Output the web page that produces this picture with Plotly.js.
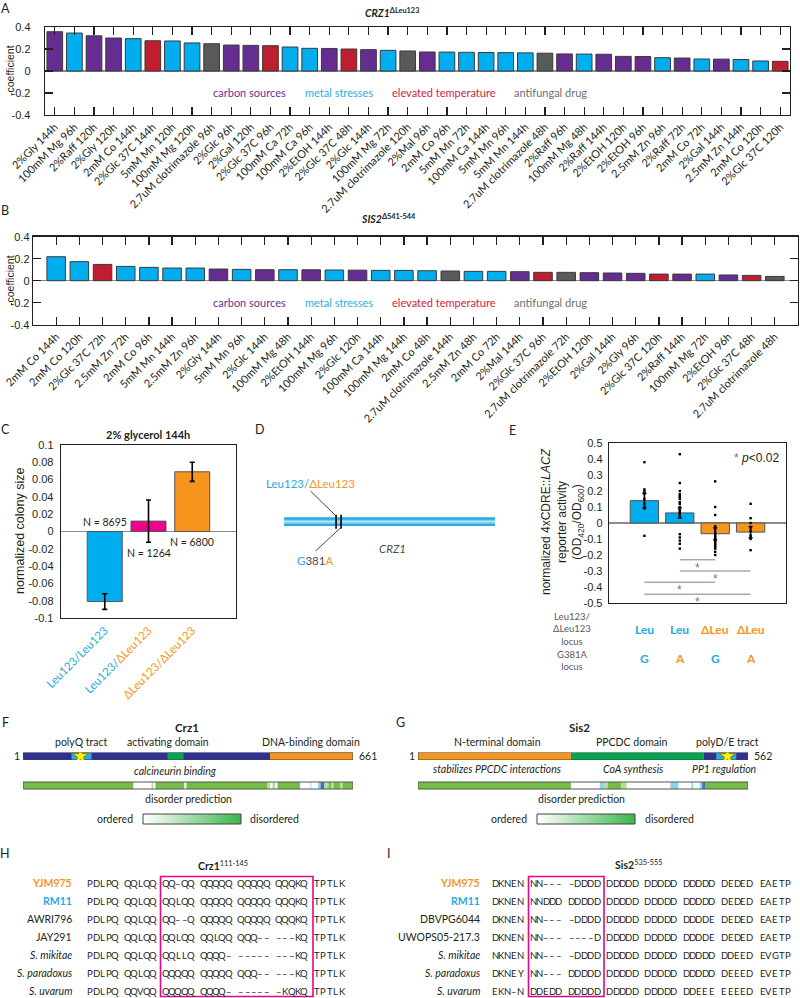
<!DOCTYPE html>
<html><head><meta charset="utf-8">
<script src="https://cdn.plot.ly/plotly-3.0.1.min.js"></script>
<style>html,body{margin:0;padding:0;background:#fff}#chart{width:800px;height:998px}</style>
</head><body><div id="chart"></div>
<script>
// ---------- DATA ----------
// Panel A: CRZ1 ΔLeu123
const aConditions = ['2%Gly 144h','100mM Mg 96h','2%Raff 120h','2%Gly 120h','2mM Co 144h','2%Glc 37C 144h','5mM Mn 120h','100mM Mg 120h','2.7uM clotrimazole 96h','2%Glc 96h','2%Gal 120h','2%Glc 37C 96h','100mM Ca 72h','100mM Ca 96h','2%EtOH 144h','2%Glc 37C 48h','2%Glc 144h','100mM Mg 72h','2.7uM clotrimazole 120h','2%Mal 96h','2mM Co 96h','5mM Mn 72h','100mM Ca 144h','5mM Mn 96h','5mM Mn 144h','2.7uM clotrimazole 48h','2%Raff 96h','100mM Mg 48h','2%Raff 144h','2%EtOH 120h','2%EtOH 96h','2.5mM Zn 96h','2%Raff 72h','2mM Co 72h','2%Gal 144h','2.5mM Zn 144h','2mM Co 120h','2%Glc 37C 120h'];
const aValues = [0.357,0.345,0.32,0.30,0.294,0.275,0.273,0.255,0.248,0.236,0.233,0.23,0.218,0.206,0.205,0.2,0.194,0.188,0.182,0.173,0.172,0.17,0.168,0.167,0.165,0.162,0.155,0.154,0.152,0.133,0.132,0.121,0.118,0.109,0.108,0.105,0.091,0.088];
// Panel B: SIS2 Δ541-544
const bConditions = ['2mM Co 144h','2mM Co 120h','2%Glc 37C 72h','2.5mM Zn 72h','2mM Co 96h','5mM Mn 144h','2.5mM Zn 96h','2%Gly 144h','5mM Mn 96h','2%Glc 144h','100mM Mg 48h','2%EtOH 144h','100mM Mg 96h','2%Glc 120h','100mM Ca 144h','100mM Mg 144h','2mM Co 48h','2.7uM clotrimazole 144h','2.5mM Zn 48h','2mM Co 72h','2%Mal 144h','2%Glc 37C 96h','2.7uM clotrimazole 72h','2%EtOH 120h','2%Gal 144h','2%Gly 96h','2%Glc 37C 120h','2%Raff 144h','100mM Mg 72h','2%EtOH 96h','2%Glc 37C 48h','2.7uM clotrimazole 48h'];
const bValues = [0.218,0.173,0.148,0.13,0.121,0.115,0.115,0.106,0.103,0.1,0.1,0.099,0.097,0.096,0.094,0.094,0.091,0.088,0.085,0.085,0.082,0.076,0.076,0.073,0.07,0.067,0.06,0.06,0.06,0.052,0.048,0.039];
const groupNames = ['carbon sources','metal stresses','elevated temperature','antifungal drug'];
// Panel C
const cGenotypes = [['Leu123/','Leu123'],['Leu123/','ΔLeu123'],['ΔLeu123/','ΔLeu123']];
const cValues = [-0.081, 0.012, 0.069];
const cErrors = [0.009, 0.0245, 0.011];
const cCounts = [8695, 1264, 6800];
// Panel D
const geneLength = 1986;
const geneMarks = [490, 537];
// Panel E
const eValues = [0.14, 0.063, -0.067, -0.057];
const eErrors = [0.045, 0.032, 0.037, 0.035];
const ePoints = [
  [0.38,0.21,0.2,0.185,0.15,0.12,0.1,0.09,-0.08],
  [0.43,0.25,0.2,0.18,0.17,0.16,0.15,0.13,0.12,0.1,0.09,0.08,0.07,0.06,0.05,0.04,-0.07,-0.09,-0.11,-0.13,-0.16],
  [0.26,0.1,0.05,-0.02,-0.04,-0.06,-0.07,-0.08,-0.09,-0.1,-0.11,-0.12,-0.13,-0.14,-0.15,-0.16,-0.18,-0.2],
  [0.12,0.03,0.0,-0.03,-0.05,-0.08,-0.1,-0.17]
];
const eLeuLocus = ['Leu','Leu','ΔLeu','ΔLeu'];
const eG381Locus = ['G','A','G','A'];
const eSigPairs = [[2,3],[2,4],[1,3],[1,4]];
const eSigLevels = [-0.23,-0.30,-0.37,-0.445];
// Panel F / G
const crz1Length = 661, crz1PolyQStar = 116;
const crz1Domains = [[1,661,'core'],[98,138,'tract'],[290,322,'act'],[495,661,'dbd']];
const crz1Disorder = [[1,222,'d'],[222,258,'o'],[258,262,'l'],[262,266,'o'],[266,324,'d'],[324,328,'o'],[328,490,'d'],[490,496,'l'],[496,500,'o'],[500,506,'l'],[506,510,'o'],[510,555,'d'],[555,576,'o'],[576,578,'lb'],[578,591,'o'],[591,596,'lb'],[596,604,'b'],[604,612,'l'],[612,618,'d'],[618,622,'l'],[622,636,'d'],[636,640,'l'],[640,661,'d']];
const sis2Length = 562, sis2PolyDEStar = 527;
const sis2Domains = [[1,261,'nterm'],[261,487,'ppcdc'],[487,562,'core'],[508,542,'tract']];
const sis2Disorder = [[1,261,'d'],[261,310,'o'],[310,318,'lb'],[318,324,'l'],[324,346,'d'],[346,356,'l'],[356,430,'o'],[430,444,'lb'],[444,466,'o'],[466,469,'lb'],[469,480,'o'],[480,484,'lb'],[484,490,'b'],[490,562,'d']];
// Panel H / I
const hStrains = ['YJM975','RM11','AWRI796','JAY291','S. mikitae','S. paradoxus','S. uvarum'];
const hSeqs = ['PDLPQ QQLQQ QQ-QQ QQQQQ QQQQQ QQQKQ TPTLK','PDLPQ QQLQQ QQLQQ QQQQQ QQQQQ QQQKQ TPTLK','PDLPQ QQLQQ QQ--Q QQQQQ QQQQQ QQQKQ TPTLK','PDLPQ QQLQQ QQLQQ QQLQQ QQQ-- ---KQ TPTLK','PDLPQ QQLQQ QQLLQ QQQQ- ----- ---KQ TPTLK','PDLPQ QQLQQ QQQQQ QQQQQ QQQ-- ---KQ TPTLK','PDLPQ QQVQQ QQQQQ QQQQ- ----- -KQKQ TPTLK'];
const iStrains = ['YJM975','RM11','DBVPG6044','UWOPS05-217.3','S. mikitae','S. paradoxus','S. uvarum'];
const iSeqs = ['DKNEN NN--- -DDDD DDDDD DDDDD DDDDD DEDED EAETP','DKNEN NNDDD DDDDD DDDDD DDDDD DDDDD DEDED EAETP','DKNEN NN--- -DDDD DDDDD DDDDD DDDDE DEDED EAETP','DKNEN NN--- ----D DDDDD DDDDD DDDDE DEDED EAETP','NKNEN NN--- -DDDD DDDDD DDDDD DDDDD DDEED EVGTP','DKNEY NN--- DDDDD DDDDD DDDDD DDDDD DEEED EVETP','EKN-N DDEDD DDDDD DDDDD DDDDD DDEEE EEEED EVETP'];

// ---------- STYLE / LAYOUT ----------
const W = 800, H = 998;
const px = x => x / W, py = y => 1 - y / H;
const PURPLE = '#662d91', BLUE = '#00aeef', RED = '#be1e2d', GRAY = '#58595b', ORANGE = '#f7941d', MAGENTA = '#ec008c';
const TXTBLUE = '#27aae1', TXTORANGE = '#f7941d';
const groupColors = [PURPLE, BLUE, RED, GRAY];
const groupTextColors = ['#6b2f95', '#1fb1ea', '#d4213d', '#6d6e71'];
function groupOf(c) { if (c.includes('37C')) return 2; if (c.includes('clotrimazole')) return 3; if (c.startsWith('2%')) return 0; return 1; }
const idx = n => Array.from({length: n}, (_, i) => i + 1);
const AX = '#231f20';
const frame = {showline: true, linecolor: AX, linewidth: 1.3, mirror: 'ticks', ticks: 'inside', tickcolor: AX, ticklen: 8, tickwidth: 1.2, showgrid: false, zeroline: false, fixedrange: true};
const yNumFont = {family: 'Liberation Sans, Arial, sans-serif', size: 11, color: AX};
const fmt = v => (Math.abs(v) < 1e-9 ? '0' : String(+v.toFixed(2)));

const traces = [];
// A
const aIdx = idx(aValues.length);
traces.push({type: 'bar', x: aIdx, y: aValues, width: 0.8, xaxis: 'x', yaxis: 'y', marker: {color: aConditions.map(c => groupColors[groupOf(c)]), line: {color: '#3a3a3a', width: 1}}, hoverinfo: 'skip'});
// B
const bIdx = idx(bValues.length);
traces.push({type: 'bar', x: bIdx, y: bValues, width: 0.8, xaxis: 'x2', yaxis: 'y2', marker: {color: bConditions.map(c => groupColors[groupOf(c)]), line: {color: '#3a3a3a', width: 1}}, hoverinfo: 'skip'});
// C
traces.push({type: 'bar', x: [1, 2, 3], y: cValues, width: 0.8, xaxis: 'x3', yaxis: 'y3', marker: {color: [BLUE, MAGENTA, ORANGE], line: {color: '#555', width: 1}}, error_y: {type: 'data', array: cErrors, color: '#000', thickness: 1.6, width: 2.5}, hoverinfo: 'skip'});
// E
traces.push({type: 'bar', x: [1, 2, 3, 4], y: eValues, width: 0.8, xaxis: 'x4', yaxis: 'y4', marker: {color: [BLUE, BLUE, ORANGE, ORANGE], line: {color: '#555', width: 1}}, error_y: {type: 'data', array: eErrors, color: '#000', thickness: 1.6, width: 2}, hoverinfo: 'skip'});
const ePx = [], ePy = [];
ePoints.forEach((arr, i) => arr.forEach(v => { ePx.push(i + 1); ePy.push(v); }));
traces.push({type: 'scatter', mode: 'markers', x: ePx, y: ePy, xaxis: 'x4', yaxis: 'y4', marker: {symbol: 'square', size: 2.4, color: '#000'}, hoverinfo: 'skip'});
// D gene marks
traces.push({type: 'scatter', mode: 'markers', x: geneMarks, y: geneMarks.map(() => 0), xaxis: 'x5', yaxis: 'y5', marker: {symbol: 'line-ns', size: 10, line: {color: '#000', width: 1.6}}, hoverinfo: 'skip'});
// F / G stars
traces.push({type: 'scatter', mode: 'markers', x: [crz1PolyQStar], y: [0.5], xaxis: 'x6', yaxis: 'y6', marker: {symbol: 'star', size: 12, color: '#fff200', line: {color: '#7a6a00', width: 0.8}}, hoverinfo: 'skip'});
traces.push({type: 'scatter', mode: 'markers', x: [sis2PolyDEStar], y: [0.5], xaxis: 'x7', yaxis: 'y7', marker: {symbol: 'star', size: 12, color: '#fff200', line: {color: '#7a6a00', width: 0.8}}, hoverinfo: 'skip'});
// gradient legends
const grad = {type: 'heatmap', x: [0, 1, 2, 3, 4], y: [0], z: [[0, 0.25, 0.5, 0.75, 1]], zsmooth: 'best', showscale: false, colorscale: [[0, '#ffffff'], [1, '#39b54a']], hoverinfo: 'skip'};
traces.push(Object.assign({}, grad, {xaxis: 'x8', yaxis: 'y8'}));
traces.push(Object.assign({}, grad, {xaxis: 'x9', yaxis: 'y9'}));

const hidden = {visible: false, fixedrange: true};
const layout = {
  width: W, height: H, margin: {l: 0, r: 0, t: 0, b: 0}, paper_bgcolor: '#fff', plot_bgcolor: 'rgba(0,0,0,0)', showlegend: false,
  font: {family: 'Lato, Liberation Sans, sans-serif', size: 11, color: AX},
  xaxis: Object.assign({}, frame, {domain: [px(45), px(790)], range: [0.5, 38.5], tickmode: 'array', tickvals: aIdx, ticktext: aConditions, tickangle: -45, tickfont: {family: 'Lato', size: 11, color: AX}, anchor: 'y'}),
  yaxis: Object.assign({}, frame, {domain: [py(115), py(27)], range: [-0.4, 0.4], tickmode: 'array', tickvals: [-0.4, -0.2, 0, 0.2, 0.4], ticktext: [-0.4, -0.2, 0, 0.2, 0.4].map(fmt), zeroline: true, zerolinecolor: '#8c8c8c', zerolinewidth: 1.2, tickfont: yNumFont, ticklabelstandoff: 11, anchor: 'x'}),
  xaxis2: Object.assign({}, frame, {domain: [px(33), px(798)], range: [0, 33], tickmode: 'array', tickvals: bIdx, ticktext: bConditions, tickangle: -45, tickfont: {family: 'Lato', size: 11, color: AX}, anchor: 'y2'}),
  yaxis2: Object.assign({}, frame, {domain: [py(324.7), py(236.7)], range: [-0.4, 0.4], tickmode: 'array', tickvals: [-0.4, -0.2, 0, 0.2, 0.4], ticktext: [-0.4, -0.2, 0, 0.2, 0.4].map(fmt), zeroline: true, zerolinecolor: '#8c8c8c', zerolinewidth: 1.2, tickfont: yNumFont, ticklabelstandoff: 0, anchor: 'x2'}),
  xaxis3: Object.assign({}, frame, {domain: [px(61), px(236)], range: [0, 4], mirror: true, ticks: '', tickmode: 'array', tickvals: [1, 2, 3], ticktext: cGenotypes.map(g => {
      const c1 = g[0].startsWith('Δ') ? TXTORANGE : TXTBLUE; const c2 = g[1].startsWith('Δ') ? TXTORANGE : TXTBLUE;
      return '<span style="color:' + c1 + '">' + g[0] + '</span><span style="color:' + c2 + '">' + g[1] + '</span>'; }),
    tickangle: -45, tickfont: {family: 'Lato', size: 11.5}, anchor: 'y3'}),
  yaxis3: Object.assign({}, frame, {domain: [py(618), py(445)], range: [-0.1, 0.1], mirror: true, ticks: '', tickmode: 'array', tickvals: [-0.1, -0.08, -0.06, -0.04, -0.02, 0, 0.02, 0.04, 0.06, 0.08, 0.1], ticktext: [-0.1, -0.08, -0.06, -0.04, -0.02, 0, 0.02, 0.04, 0.06, 0.08, 0.1].map(fmt), zeroline: true, zerolinecolor: '#8c8c8c', zerolinewidth: 1.2, tickfont: yNumFont, ticklabelstandoff: 4, anchor: 'x3'}),
  xaxis4: Object.assign({}, frame, {domain: [px(609), px(786)], range: [0, 5], mirror: true, ticks: '', showticklabels: false, anchor: 'y4'}),
  yaxis4: Object.assign({}, frame, {domain: [py(603), py(443)], range: [-0.5, 0.5], mirror: true, ticks: '', tickmode: 'array', tickvals: [-0.5, -0.4, -0.3, -0.2, -0.1, 0, 0.1, 0.2, 0.3, 0.4, 0.5], ticktext: [-0.5, -0.4, -0.3, -0.2, -0.1, 0, 0.1, 0.2, 0.3, 0.4, 0.5].map(fmt), zeroline: true, zerolinecolor: '#8c8c8c', zerolinewidth: 1.2, tickfont: yNumFont, ticklabelstandoff: 3, anchor: 'x4'}),
  xaxis5: Object.assign({}, hidden, {domain: [px(284), px(495)], range: [0, geneLength], anchor: 'y5'}),
  yaxis5: Object.assign({}, hidden, {domain: [py(541.7), py(501.7)], range: [-1, 1], anchor: 'x5'}),
  xaxis6: Object.assign({}, hidden, {domain: [px(23), px(353)], range: [1, crz1Length], anchor: 'y6'}),
  yaxis6: Object.assign({}, hidden, {domain: [py(760), py(752.5)], range: [0, 1], anchor: 'x6'}),
  xaxis7: Object.assign({}, hidden, {domain: [px(418), px(748)], range: [1, sis2Length], anchor: 'y7'}),
  yaxis7: Object.assign({}, hidden, {domain: [py(760), py(752.5)], range: [0, 1], anchor: 'x7'}),
  xaxis8: Object.assign({}, hidden, {domain: [px(143), px(241)], range: [0, 4], anchor: 'y8'}),
  yaxis8: Object.assign({}, hidden, {domain: [py(824), py(814)], range: [-0.5, 0.5], anchor: 'x8'}),
  xaxis9: Object.assign({}, hidden, {domain: [px(537), px(635)], range: [0, 4], anchor: 'y9'}),
  yaxis9: Object.assign({}, hidden, {domain: [py(824), py(814)], range: [-0.5, 0.5], anchor: 'x9'}),
};

// ---------- ANNOTATIONS ----------
const ann = [];
function T(x, y, text, opt = {}) {
  const font = Object.assign({family: 'Lato, sans-serif', size: 11, color: AX}, opt.font || {});
  const o = Object.assign({xref: 'paper', yref: 'paper', x: px(x), y: py(y), text, showarrow: false, xanchor: 'center', yanchor: 'middle'}, opt);
  o.font = font; ann.push(o);
}
// panel letters
[['A', 5, 8], ['B', 5, 211], ['C', 5, 429], ['D', 260, 429], ['E', 512, 430], ['F', 5, 722], ['G', 400, 722], ['H', 5, 853], ['I', 389, 853]].forEach(l => T(l[1], l[2], l[0], {font: {size: 12.5}}));
// A/B titles and y titles
T(392, 13, '<b><i>CRZ1</i></b><sup><b>ΔLeu123</b></sup>', {font: {size: 10.5}});
T(388, 219, '<b><i>SIS2</i></b><sup><b>Δ541-544</b></sup>', {font: {size: 10.5}});
T(10, 71, '-coefficient', {textangle: -90, font: {family: 'Liberation Sans, Arial', size: 10.5}});
T(10, 281, '-coefficient', {textangle: -90, font: {family: 'Liberation Sans, Arial', size: 10.5}});
// group legends in A and B
const groupX = [249.5, 338.5, 444, 550.5];
groupNames.forEach((g, i) => {
  ['y', 'y2'].forEach(yr => ann.push({xref: 'paper', yref: yr, x: px(groupX[i]), y: -0.2, xanchor: 'center', yanchor: 'middle', text: g, showarrow: false, font: {family: 'Lato', size: 11, color: groupTextColors[i]}}));
});
// C
T(148, 435, '<b>2% glycerol 144h</b>', {font: {size: 11}});
T(20, 531, 'normalized colony size', {textangle: -90, font: {family: 'Liberation Sans, Arial', size: 12.5}});
const cLabelY = [0.011, -0.0246, -0.012];
cCounts.forEach((n, i) => ann.push({xref: 'x3', yref: 'y3', x: i + 1, y: cLabelY[i], xanchor: 'center', yanchor: 'middle', text: 'N = ' + n, showarrow: false, font: {family: 'Lato', size: 10.5, color: AX}}));
// D
T(310, 483, '<span style="color:' + TXTBLUE + '">Leu123/</span><span style="color:' + TXTORANGE + '">ΔLeu123</span>', {font: {size: 11.5}});
T(315, 560, '<span style="color:' + TXTBLUE + '">G</span><span style="color:#4d4d4f">381</span><span style="color:' + TXTORANGE + '">A</span>', {font: {size: 11.5}});
T(392, 548, '<i>CRZ1</i>', {font: {size: 11.5, color: '#4d4d4f'}});
// E
T(562, 522, 'normalized 4xCDRE::<i>LACZ</i><br>reporter activity<br>(OD<sub>420</sub>/OD<sub>600</sub>)', {textangle: -90, font: {family: 'Liberation Sans, Arial', size: 12}});
T(756, 458, '<span style="color:#777">*</span> <i>p</i>&lt;0.02', {font: {family: 'Liberation Sans, Arial', size: 12}});
eSigPairs.forEach((p, i) => {
  ann.push({xref: 'x4', yref: 'y4', x: (p[0] + p[1]) / 2, y: eSigLevels[i], yshift: -8, xanchor: 'center', yanchor: 'middle', text: '*', showarrow: false, font: {family: 'Liberation Sans, Arial', size: 12, color: '#777'}});
});
T(572, 629, 'Leu123/<br>ΔLeu123<br>locus', {font: {size: 9.5, color: '#58595b'}});
T(572, 660, 'G381A<br>locus', {font: {size: 9.5, color: '#58595b'}});
eLeuLocus.forEach((t, i) => ann.push({xref: 'x4', yref: 'paper', x: i + 1, y: py(629), xanchor: 'center', yanchor: 'middle', text: '<b>' + t + '</b>', showarrow: false, font: {family: 'Lato', size: 12, color: t.startsWith('Δ') ? TXTORANGE : TXTBLUE}}));
eG381Locus.forEach((t, i) => ann.push({xref: 'x4', yref: 'paper', x: i + 1, y: py(658), xanchor: 'center', yanchor: 'middle', text: '<b>' + t + '</b>', showarrow: false, font: {family: 'Lato', size: 12, color: t === 'A' ? TXTORANGE : TXTBLUE}}));
// F
const fs = 10.5;
T(187, 727, '<b>Crz1</b>', {font: {size: 11.5}});
T(81.5, 742, 'polyQ tract', {font: {size: fs}});
T(168, 742, 'activating domain', {font: {size: fs}});
T(311, 742, 'DNA-binding domain', {font: {size: fs}});
T(17, 756, '1', {font: {size: fs}});
T(357, 756, String(crz1Length), {xanchor: 'left', font: {size: fs}});
T(175.5, 771, '<i>calcineurin binding</i>', {font: {size: fs}});
T(188, 799, 'disorder prediction', {font: {size: fs}});
T(135, 819, 'ordered', {xanchor: 'right', font: {size: fs}});
T(248, 819, 'disordered', {xanchor: 'left', font: {size: fs}});
// G
T(579, 727, '<b>Sis2</b>', {font: {size: 11.5}});
T(497, 742, 'N-terminal domain', {font: {size: fs}});
T(632, 742, 'PPCDC domain', {font: {size: fs}});
T(727, 742, 'polyD/E tract', {font: {size: fs}});
T(412, 756, '1', {font: {size: fs}});
T(752, 756, String(sis2Length), {xanchor: 'left', font: {size: fs}});
T(497, 769, '<i>stabilizes PPCDC interactions</i>', {font: {size: fs}});
T(633, 769, '<i>CoA synthesis</i>', {font: {size: fs}});
T(724, 769, '<i>PP1 regulation</i>', {font: {size: fs}});
T(581, 799, 'disorder prediction', {font: {size: fs}});
T(529, 819, 'ordered', {xanchor: 'right', font: {size: fs}});
T(643, 819, 'disordered', {xanchor: 'left', font: {size: fs}});
// H / I alignments
function strainLabel(s, i) {
  if (i === 0) return '<b><span style="color:' + TXTORANGE + '">' + s + '</span></b>';
  if (i === 1) return '<b><span style="color:' + TXTBLUE + '">' + s + '</span></b>';
  if (s.startsWith('S. ')) return '<i>' + s + '</i>';
  return s;
}
T(223, 865, '<b>Crz1</b><sup>111-145</sup>', {font: {size: 10.5}});
T(638, 864, '<b>Sis2</b><sup>535-555</sup>', {font: {size: 10.5}});
function alignment(strains, seqs, labelRight, colStart, colStep) {
  const pitch = colStep / 6;
  strains.forEach((s, r) => {
    const y = 883 + r * 18;
    T(labelRight, y, strainLabel(s, r), {xanchor: 'right', font: {size: 10.5}});
    const chars = seqs[r].split('');
    chars.forEach((ch, k) => {
      if (ch === ' ') return;
      T(colStart + k * pitch + pitch / 2, y, ch === '-' ? '–' : ch, {font: {size: 9.5, color: '#231f20'}});
    });
  });
}
alignment(hStrains, hSeqs, 74, 87, 37.8);
alignment(iStrains, iSeqs, 482, 492, 38.2);
layout.annotations = ann;

// ---------- SHAPES ----------
const shapes = [];
const Lp = (x0, y0, x1, y1, color, width) => shapes.push({type: 'line', xref: 'paper', yref: 'paper', x0: px(x0), y0: py(y0), x1: px(x1), y1: py(y1), line: {color, width}});
// D gene bar
shapes.push({type: 'rect', xref: 'x5', yref: 'y5', x0: 0, x1: geneLength, y0: -0.22, y1: 0.22, fillcolor: '#29abe2', line: {width: 0}, layer: 'below'});
shapes.push({type: 'rect', xref: 'x5', yref: 'y5', x0: 0, x1: geneLength, y0: -0.1, y1: 0.1, fillcolor: '#7fd0f2', line: {width: 0}, layer: 'below'});
shapes.push({type: 'line', xref: 'x5', yref: 'y5', x0: 0, x1: geneLength, y0: 0, y1: 0, line: {color: '#bfe8fa', width: 1}, layer: 'below'});
Lp(310.5, 491, 336, 516, '#333', 0.9);
Lp(341.5, 527, 315.5, 551, '#333', 0.9);
// E significance lines
eSigPairs.forEach((p, i) => shapes.push({type: 'line', xref: 'x4', yref: 'y4', x0: p[0], x1: p[1], y0: eSigLevels[i], y1: eSigLevels[i], line: {color: '#808080', width: 1}}));
// F/G domain bars
const domColor = {core: '#2e3192', tract: '#27aae1', act: '#00a651', dbd: '#f7941d', nterm: '#f7941d', ppcdc: '#00a651'};
function domainBar(domains, xr, yr, len) {
  domains.forEach(d => shapes.push({type: 'rect', xref: xr, yref: yr, x0: d[0], x1: d[1], y0: 0, y1: 1, fillcolor: domColor[d[2]], line: {width: 0}, layer: 'below'}));
  shapes.push({type: 'rect', xref: xr, yref: yr, x0: 1, x1: len, y0: 0, y1: 1, line: {color: '#444', width: 1}, layer: 'below'});
}
domainBar(crz1Domains, 'x6', 'y6', crz1Length);
domainBar(sis2Domains, 'x7', 'y7', sis2Length);
const disColor = {d: '#72bf44', l: '#b7dd9c', o: '#ffffff', lb: '#8fd3f3', b: '#3b76c0'};
function disorderBar(segs, xr, len) {
  segs.forEach(s => shapes.push({type: 'rect', xref: xr, yref: 'paper', x0: s[0], x1: s[1], y0: py(789), y1: py(782), fillcolor: disColor[s[2]], line: {width: 0}, layer: 'below'}));
  shapes.push({type: 'rect', xref: xr, yref: 'paper', x0: 1, x1: len, y0: py(789), y1: py(782), line: {color: '#555', width: 1}});
}
disorderBar(crz1Disorder, 'x6', crz1Length);
disorderBar(sis2Disorder, 'x7', sis2Length);
// gradient legend frames
shapes.push({type: 'rect', xref: 'paper', yref: 'paper', x0: px(143), x1: px(241), y0: py(824), y1: py(814), line: {color: '#444', width: 1}});
shapes.push({type: 'rect', xref: 'paper', yref: 'paper', x0: px(537), x1: px(635), y0: py(824), y1: py(814), line: {color: '#444', width: 1}});
// H / I highlight boxes
shapes.push({type: 'rect', xref: 'paper', yref: 'paper', x0: px(160.5), x1: px(313), y0: py(996.5), y1: py(876.5), line: {color: '#ec008c', width: 1.6}});
shapes.push({type: 'rect', xref: 'paper', yref: 'paper', x0: px(528.5), x1: px(604), y0: py(996.5), y1: py(876.5), line: {color: '#ec008c', width: 1.6}});
layout.shapes = shapes;

Plotly.newPlot('chart', traces, layout, {staticPlot: true, displayModeBar: false});
</script>
</body></html>
